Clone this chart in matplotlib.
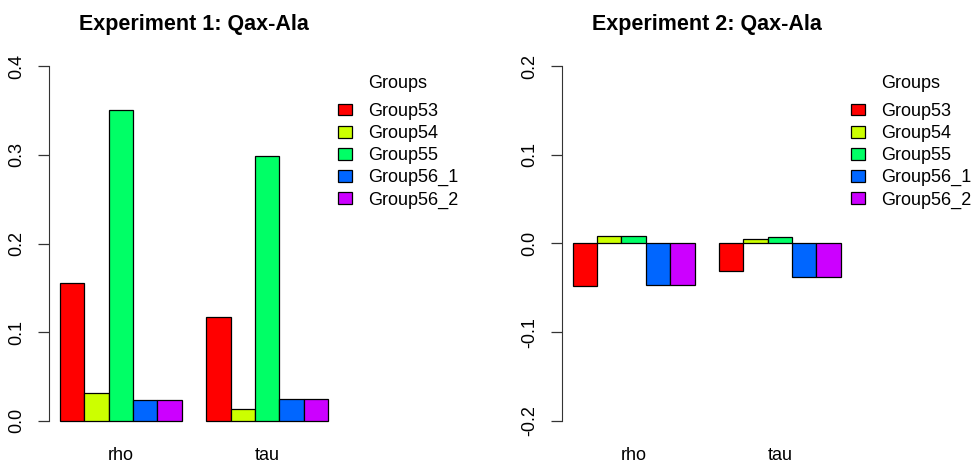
import numpy as np
import matplotlib
matplotlib.use("Agg")
import matplotlib.pyplot as plt

plt.rcParams['font.family'] = ['Liberation Sans', 'DejaVu Sans']

# data
measures = ["rho", "tau"]
groups = ["Group53", "Group54", "Group55", "Group56_1", "Group56_2"]
colors = ["#FF0000", "#CCFF00", "#00FF66", "#0066FF", "#CC00FF"]

exp1_rho = [0.155, 0.031, 0.351, 0.0237, 0.0237]
exp1_tau = [0.117, 0.0132, 0.299, 0.0244, 0.0244]
exp2_rho = [-0.048, 0.0082, 0.0082, -0.047, -0.047]
exp2_tau = [-0.031, 0.0052, 0.0068, -0.038, -0.038]

W, H = 975, 465


def bar_panel(ax, rho, tau, title, yticks, legend_x):
    n = len(groups)
    values = np.array([rho, tau])
    # R barplot(beside=TRUE) layout: one bar-width gap before each group
    for g in range(len(measures)):
        for i in range(n):
            ax.bar(1.5 + g * (n + 1) + i, values[g, i], width=1.0,
                   color=colors[i], edgecolor="black", linewidth=0.9,
                   label=groups[i] if g == 0 else None)
    span = 2 * (n + 1) - 1
    pad_x = 0.04 * span
    ax.set_xlim(1 - pad_x, 1 + span + pad_x)
    lo, hi = yticks[0], yticks[-1]
    pad_y = 0.04 * (hi - lo)
    ax.set_ylim(lo - pad_y, hi + pad_y)

    for s in ["top", "right", "bottom"]:
        ax.spines[s].set_visible(False)
    ax.spines["left"].set_bounds(lo, hi)
    ax.spines["left"].set_color("#333333")
    ax.set_yticks(yticks)
    ax.set_yticklabels(["%.1f" % t for t in yticks], rotation=90, va="center")
    ax.tick_params(axis="y", length=8, width=0.9, color="#333333",
                   labelsize=13, pad=9)
    ax.set_xticks([1 + (n / 2) + g * (n + 1) for g in range(len(measures))])
    ax.set_xticklabels(measures)
    ax.tick_params(axis="x", length=0, labelsize=13, pad=9)
    ax.set_title(title, fontsize=15.5, fontweight="bold", pad=16)

    leg = ax.legend(loc="upper left", bbox_to_anchor=(legend_x / W, 1 - 75 / H),
                    bbox_transform=ax.figure.transFigure, frameon=False,
                    title="Groups", fontsize=13, title_fontsize=13,
                    handlelength=0.75, handleheight=0.6, handletextpad=0.9,
                    labelspacing=0.28, borderpad=0, borderaxespad=0)
    # a bit more room between the legend title and the entries, as in R
    leg._legend_box.sep = 8


fig = plt.figure(figsize=(W / 100, H / 100), dpi=100)
ax1 = fig.add_axes([49.3 / W, 1 - 435 / H, 289.4 / W, 383 / H])
ax2 = fig.add_axes([562 / W, 1 - 435 / H, 289.4 / W, 383 / H])

bar_panel(ax1, exp1_rho, exp1_tau, "Experiment 1: Qax-Ala",
          [0.0, 0.1, 0.2, 0.3, 0.4], 338)
bar_panel(ax2, exp2_rho, exp2_tau, "Experiment 2: Qax-Ala",
          [-0.2, -0.1, 0.0, 0.1, 0.2], 851)

fig.savefig("out.png", dpi=100)
